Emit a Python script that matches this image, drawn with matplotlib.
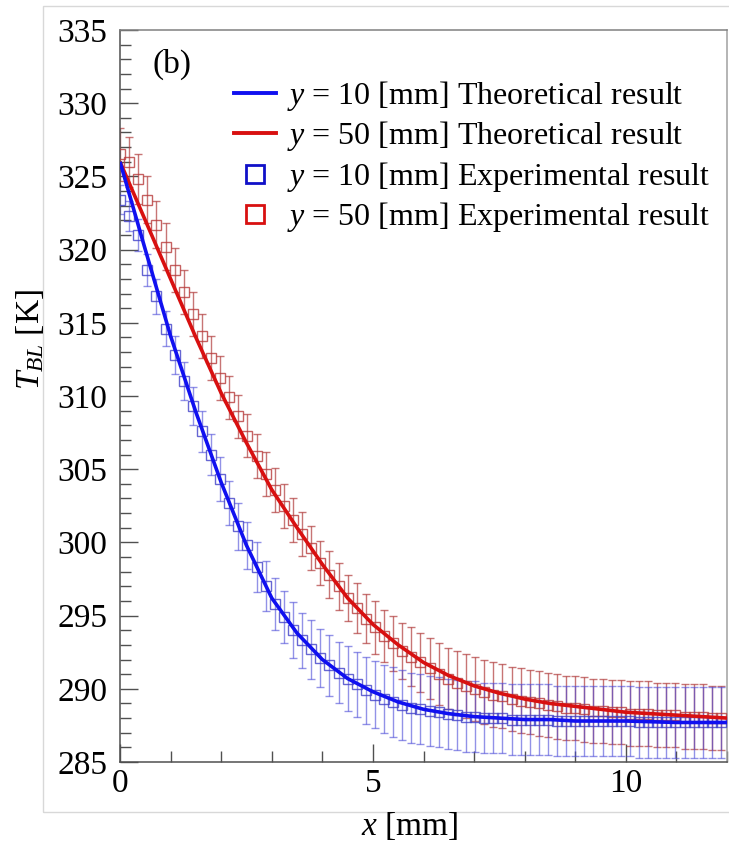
import matplotlib
matplotlib.use("Agg")
import matplotlib.pyplot as plt
from matplotlib.lines import Line2D
from matplotlib.patches import Rectangle

plt.rcParams['font.family'] = ['Liberation Serif', 'DejaVu Serif']
plt.rcParams['mathtext.fontset'] = 'custom'
plt.rcParams['mathtext.rm'] = 'Liberation Serif'
plt.rcParams['mathtext.it'] = 'Liberation Serif:italic'

# ---------------- data ----------------
x_theory = [0.0, 0.5, 1.0, 1.5, 2.0, 2.5, 3.0, 3.5, 4.0, 4.5, 5.0, 5.5, 6.0, 6.5,
            7.0, 7.5, 8.0, 8.5, 9.0, 9.5, 10.0, 11.0, 12.0]
t_theory_y10 = [326.0, 320.0, 314.1, 308.9, 304.1, 299.8, 296.2, 293.8, 292.0, 290.7,
                289.8, 289.1, 288.6, 288.3, 288.1, 288.0, 287.9, 287.9, 287.8, 287.8,
                287.8, 287.7, 287.7]
t_theory_y50 = [326.0, 322.0, 318.0, 314.0, 310.2, 306.8, 303.6, 301.0, 298.5, 296.2,
                294.4, 293.0, 291.8, 290.9, 290.2, 289.7, 289.3, 289.0, 288.8, 288.6,
                288.4, 288.2, 288.0]

x_exp = [0.00, 0.18, 0.36, 0.54, 0.72, 0.90, 1.08, 1.26, 1.44, 1.62,
         1.80, 1.98, 2.16, 2.34, 2.52, 2.70, 2.88, 3.06, 3.24, 3.42,
         3.60, 3.78, 3.96, 4.14, 4.32, 4.50, 4.68, 4.86, 5.04, 5.22,
         5.40, 5.58, 5.76, 5.94, 6.12, 6.30, 6.48, 6.66, 6.84, 7.02,
         7.20, 7.38, 7.56, 7.74, 7.92, 8.10, 8.28, 8.46, 8.64, 8.82,
         9.00, 9.18, 9.36, 9.54, 9.72, 9.90, 10.08, 10.26, 10.44, 10.62,
         10.80, 10.98, 11.16, 11.34, 11.52, 11.70, 11.88]
t_exp_y10 = [323.4, 322.3, 321.0, 318.6, 316.8, 314.6, 312.8, 311.0, 309.3, 307.6,
             306.0, 304.3, 302.7, 301.1, 299.8, 298.3, 297.0, 295.8, 294.9, 294.0,
             293.3, 292.7, 292.1, 291.6, 291.1, 290.7, 290.3, 289.9, 289.6, 289.3,
             289.1, 288.9, 288.7, 288.6, 288.5, 288.4, 288.3, 288.2, 288.1, 288.1,
             288.0, 288.0, 288.0, 287.9, 287.9, 287.9, 287.9, 287.9, 287.8, 287.8,
             287.8, 287.8, 287.8, 287.8, 287.8, 287.8, 287.8, 287.7, 287.7, 287.7,
             287.7, 287.7, 287.7, 287.7, 287.7, 287.7, 287.7]
t_exp_y50 = [326.5, 326.0, 324.8, 323.4, 321.7, 320.2, 318.6, 317.1, 315.6, 314.1,
             312.6, 311.2, 309.9, 308.6, 307.3, 305.9, 304.7, 303.6, 302.5, 301.5,
             300.6, 299.6, 298.6, 297.8, 297.0, 296.2, 295.5, 294.8, 294.2, 293.6,
             293.1, 292.6, 292.2, 291.8, 291.4, 291.0, 290.7, 290.4, 290.2, 290.0,
             289.8, 289.6, 289.5, 289.3, 289.2, 289.1, 289.0, 288.9, 288.8, 288.7,
             288.7, 288.6, 288.5, 288.5, 288.4, 288.4, 288.3, 288.3, 288.3, 288.2,
             288.2, 288.2, 288.1, 288.1, 288.1, 288.0, 288.0]
err_y10 = [1.0, 1.0, 1.1, 1.1, 1.2, 1.2, 1.3, 1.3, 1.3, 1.4,
           1.4, 1.5, 1.5, 1.6, 1.6, 1.7, 1.7, 1.8, 1.8, 1.9,
           1.9, 2.0, 2.0, 2.1, 2.1, 2.2, 2.2, 2.3, 2.3, 2.3,
           2.4, 2.4, 2.4, 2.4, 2.4, 2.4, 2.4, 2.4, 2.4, 2.4,
           2.4, 2.4, 2.4, 2.4, 2.4, 2.4, 2.4, 2.4, 2.4, 2.4,
           2.4, 2.4, 2.4, 2.4, 2.4, 2.4, 2.4, 2.4, 2.4, 2.4,
           2.4, 2.4, 2.4, 2.4, 2.4, 2.4, 2.4]
err_y50 = [1.8, 1.7, 1.7, 1.6, 1.6, 1.6, 1.5, 1.5, 1.5, 1.5,
           1.5, 1.5, 1.5, 1.5, 1.5, 1.5, 1.5, 1.5, 1.5, 1.5,
           1.5, 1.5, 1.5, 1.6, 1.6, 1.6, 1.7, 1.7, 1.8, 1.8,
           1.9, 1.9, 2.0, 2.0, 2.1, 2.1, 2.1, 2.2, 2.2, 2.2,
           2.2, 2.2, 2.2, 2.2, 2.2, 2.2, 2.2, 2.2, 2.2, 2.2,
           2.2, 2.2, 2.2, 2.2, 2.2, 2.2, 2.2, 2.2, 2.2, 2.2,
           2.2, 2.2, 2.2, 2.2, 2.2, 2.2, 2.2]

labels = [r"$y$ = 10 [mm] Theoretical result",
          r"$y$ = 50 [mm] Theoretical result",
          r"$y$ = 10 [mm] Experimental result",
          r"$y$ = 50 [mm] Experimental result"]

# ---------------- figure ----------------
W, H = 729, 843
fig = plt.figure(figsize=(W / 100, H / 100), dpi=100)
fig.patch.set_facecolor('white')

# light outer frame
fig.add_artist(Rectangle((43 / W, 1 - 812 / H), 1.0, (812 - 6) / H,
                         transform=fig.transFigure, fill=False,
                         edgecolor='#d8d8d8', linewidth=1.0))

ax = fig.add_axes([120 / W, 1 - 762 / H, (727 - 120) / W, (762 - 30) / H])

blue_line = '#1010f0'
red_line = '#d81010'

ax.errorbar(x_exp, t_exp_y50, yerr=err_y50, fmt='none', ecolor='#b03a3a',
            elinewidth=1.0, capsize=3, capthick=1.0, alpha=0.7, zorder=2)
ax.errorbar(x_exp, t_exp_y10, yerr=err_y10, fmt='none', ecolor='#4a4ad8',
            elinewidth=1.0, capsize=3, capthick=1.0, alpha=0.6, zorder=2)
ax.plot(x_exp, t_exp_y50, ls='none', marker='s', ms=7, mfc='none',
        mec='#b83a3a', mew=1.0, alpha=0.8, zorder=3)
ax.plot(x_exp, t_exp_y10, ls='none', marker='s', ms=7, mfc='none',
        mec='#4040c8', mew=1.0, alpha=0.8, zorder=3)
ax.plot(x_theory, t_theory_y50, color=red_line, lw=2.6, zorder=4,
        solid_capstyle='butt')
ax.plot(x_theory, t_theory_y10, color=blue_line, lw=2.6, zorder=4,
        solid_capstyle='butt')

ax.set_xlim(0, 12)
ax.set_ylim(285, 335)
ax.set_xticks([0, 5, 10])
ax.set_xticks(range(0, 13), minor=True)
ax.set_yticks(range(285, 336, 5))
ax.set_yticks(range(285, 336, 1), minor=True)

spine_c = '#505050'
for s in ax.spines.values():
    s.set_color(spine_c)
    s.set_linewidth(1.1)
ax.spines['top'].set_color('#808080')
ax.spines['right'].set_color('#a0a0a0')
ax.tick_params(which='both', direction='in', color=spine_c, width=1.0,
               top=False, right=False, labelsize=24)
ax.tick_params(which='major', length=13)
ax.tick_params(which='minor', length=8)
ax.tick_params(axis='y', which='major', pad=9)
ax.tick_params(axis='x', which='major', pad=5)

ax.text(0.054, 0.975, '(b)', transform=ax.transAxes, fontsize=24,
        ha='left', va='top')

fig.text(30 / W, 1 - 340 / H, r"$T_{BL}$ [K]", rotation=90, fontsize=24,
         ha='center', va='center')
fig.text(410 / W, 1 - 826 / H, r"$x$ [mm]", fontsize=24,
         ha='center', va='center')

handles = [Line2D([], [], color=blue_line, lw=2.8),
           Line2D([], [], color=red_line, lw=2.8),
           Line2D([], [], ls='none', marker='s', ms=13, mfc='none',
                  mec='#1010c8', mew=2.0),
           Line2D([], [], ls='none', marker='s', ms=13, mfc='none',
                  mec='#d81010', mew=2.0)]
ax.legend(handles, labels, loc='upper left',
          bbox_to_anchor=(234 / W, 1 - 79 / H), bbox_transform=fig.transFigure,
          frameon=False, fontsize=23, handlelength=1.3, handletextpad=0.35,
          labelspacing=0.2, borderaxespad=0, borderpad=0)

fig.savefig('out.png', dpi=100, facecolor='white')
